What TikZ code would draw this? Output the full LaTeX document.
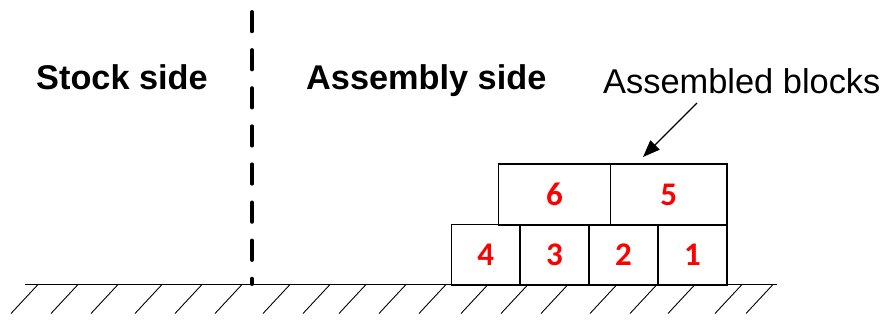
\documentclass[tikz,border=0pt]{standalone}
\usepackage{fontspec}
\setmainfont{Liberation Sans}
\newfontfamily\numfont{Carlito}
\usetikzlibrary{arrows.meta}
\definecolor{numred}{RGB}{255,0,0}
\begin{document}
\begin{tikzpicture}[x=1pt,y=-1pt,
  blockbox/.style={draw=black, line width=1.5pt, fill=white, inner sep=0pt, outer sep=0pt,
    minimum height=60.5pt, font=\numfont\bfseries\fontsize{33}{35}\selectfont, text=numred},
  sidelabel/.style={anchor=base west, inner sep=0pt, font=\bfseries\fontsize{34.3}{40}\selectfont},
  notelabel/.style={anchor=base west, inner sep=0pt, font=\fontsize{34.4}{40}\selectfont},
  groundline/.style={line width=1.5pt},
  hatchline/.style={line width=0.9pt},
  divider/.style={line width=4pt, line cap=round, dash pattern=on 19.3pt off 18.8pt},
  pointer/.style={line width=1.2pt, -{Triangle[length=17pt,width=13pt]}}]
\useasboundingbox (0,0) rectangle (886,320);

% ground with hatching
\coordinate (gl) at (25,284.5);
\coordinate (gr) at (777,284.5);
\foreach \hx in {38,78,118,162,202,242,290,330,366,406,446,488,528,568,617,657,695,742,773}
  \draw[hatchline] (\hx,284.5) -- ++(-27,29);
\draw[groundline] (gl) -- (gr);

% dashed divider between the two sides
\coordinate (divtop) at (252,12);
\coordinate (divbot) at (252,284);
\draw[divider] (divtop) -- (divbot);

% side labels
\node[sidelabel] (stock) at (36,90) {Stock side};
\node[sidelabel] (assembly) at (306,90) {Assembly side};

% bottom row of blocks
\node[blockbox, minimum width=68.3pt] (b4) at (485.8,254.8) {4};
\node[blockbox, minimum width=69pt] (b3) at (554.5,254.8) {3};
\node[blockbox, minimum width=69pt] (b2) at (623.5,254.8) {2};
\node[blockbox, minimum width=69pt] (b1) at (692.5,254.8) {1};
% top row of blocks
\node[blockbox, minimum width=112.4pt, minimum height=60.7pt] (b6) at (554.5,194.6) {6};
\node[blockbox, minimum width=116.3pt, minimum height=60.7pt] (b5) at (668.8,194.6) {5};

% annotation
\node[notelabel] (note) at (603,94) {Assembled blocks};
\coordinate (ptail) at (697,103);
\coordinate (phead) at (643,157);
\draw[pointer] (ptail) -- (phead);
\end{tikzpicture}
\end{document}
